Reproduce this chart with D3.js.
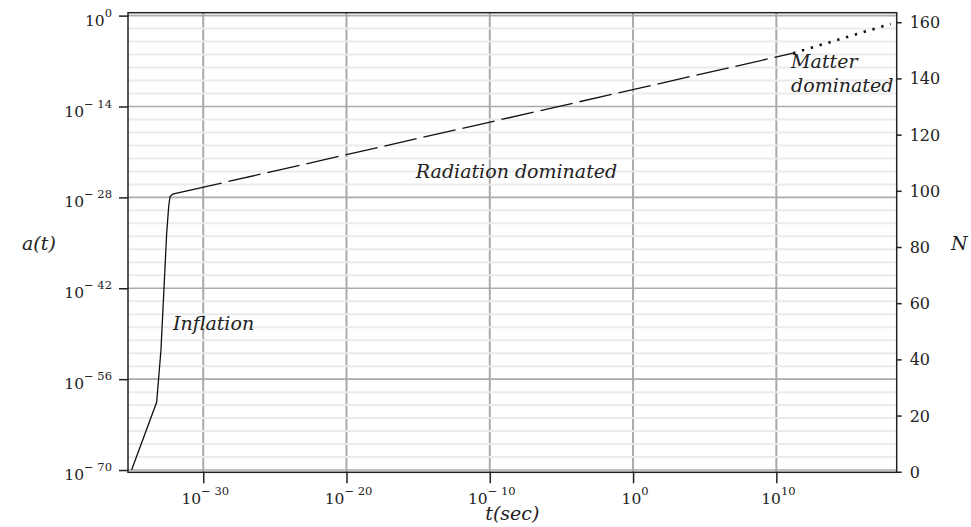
<!DOCTYPE html>
<html>
<head>
<meta charset="utf-8">
<script src="https://cdn.jsdelivr.net/npm/d3@7"></script>
<style>
  body { margin: 0; background: #fff; }
  svg text { font-family: "DejaVu Serif", serif; fill: #222; }
  .lbl { font-style: italic; font-size: 19px; }
</style>
</head>
<body>
<svg id="chart" width="971" height="527"></svg>
<script>
// exponents (powers of ten)
var majorTExp = [-30, -20, -10, 0, 10];
var majorAExp = [0, -14, -28, -42, -56, -70];
var nTicks = [0, 20, 40, 60, 80, 100, 120, 140, 160];

// pre-inflation + inflation + start of radiation era (solid)
var earlyT = [-35, -33.25, -32.95, -32.72, -32.55, -32.41, -32.32, -32.14, -28.72];
var earlyA = [-70, -59.57, -51.5, -41.2, -33.5, -29.4, -27.9, -27.5, -25.79];
// radiation dominated (dashed)
var radiationT = [-28.72, 11.17];
var radiationA = [-25.79, -5.79];
// matter dominated (dotted)
var matterT = [11.17, 17.98];
var matterA = [-5.79, -1.28];

var width = 971, height = 527;
var margin = {top: 12.7, right: 74.3, bottom: 54.7, left: 128};
var x0 = margin.left, x1 = width - margin.right;
var y0 = height - margin.bottom, y1 = margin.top;

var svg = d3.select('#chart');

var x = d3.scaleLog().domain([Math.pow(10, -35.25), Math.pow(10, 18.4)]).range([x0, x1]);
var y = d3.scaleLog().domain([Math.pow(10, -70.35), Math.pow(10, 0.45)]).range([y0, y1]);
var yN = d3.scaleLinear().domain([-0.2, 163.4]).range([y0, y1]);

function p10(e) { return Math.pow(10, e); }
function toPts(ts, as) {
  return ts.map(function(t, i) { return {t: p10(t), a: p10(as[i])}; });
}

var minorT = d3.range(-35, 19).filter(function(e) { return majorTExp.indexOf(e) < 0; });
var minorA = d3.range(-70, 1, 2).filter(function(e) { return majorAExp.indexOf(e) < 0; });

// grid
var grid = svg.append('g');
grid.selectAll('line.v').data(majorTExp).enter().append('line')
  .attr('x1', function(d) { return x(p10(d)); }).attr('x2', function(d) { return x(p10(d)); })
  .attr('y1', y0).attr('y2', y1)
  .attr('stroke', '#a9a9a9').attr('stroke-width', 2);
grid.selectAll('line.hm').data(minorA).enter().append('line')
  .attr('x1', x0).attr('x2', x1)
  .attr('y1', function(d) { return y(p10(d)); }).attr('y2', function(d) { return y(p10(d)); })
  .attr('stroke', '#ebebeb').attr('stroke-width', 2);
grid.selectAll('line.h').data(majorAExp).enter().append('line')
  .attr('x1', x0).attr('x2', x1)
  .attr('y1', function(d) { return y(p10(d)); }).attr('y2', function(d) { return y(p10(d)); })
  .attr('stroke', '#ababab').attr('stroke-width', 1.6);

// curves
var line = d3.line()
  .x(function(d) { return x(d.t); })
  .y(function(d) { return y(d.a); });

svg.append('path').datum(toPts(earlyT, earlyA))
  .attr('d', line).attr('fill', 'none').attr('stroke', '#111').attr('stroke-width', 1.3);
svg.append('path').datum(toPts(radiationT, radiationA))
  .attr('d', line).attr('fill', 'none').attr('stroke', '#111').attr('stroke-width', 1.3)
  .attr('stroke-dasharray', '33,7').attr('stroke-dashoffset', 33);
svg.append('path').datum(toPts(matterT, matterA))
  .attr('d', line).attr('fill', 'none').attr('stroke', '#111').attr('stroke-width', 2.6)
  .attr('stroke-dasharray', '2.4,6.8');

// axes
function powLabel(sel) {
  sel.each(function(d) {
    var e = Math.round(Math.log10(d));
    var t = d3.select(this).text(null);
    t.append('tspan').text('10');
    t.append('tspan').attr('dy', -9).attr('font-size', 11.5)
      .text(e < 0 ? '\u2212 ' + (-e) : String(e));
  });
}

var gx = svg.append('g').attr('transform', 'translate(0,' + y0 + ')');
gx.call(d3.axisBottom(x).tickValues(minorT.map(p10)).tickSize(6).tickFormat(''));
gx.call(d3.axisBottom(x).tickValues(majorTExp.map(p10)).tickSize(11).tickFormat(''));

var gy = svg.append('g').attr('transform', 'translate(' + x0 + ',0)');
gy.call(d3.axisLeft(y).tickValues(minorA.map(p10)).tickSize(5).tickFormat(''));
gy.call(d3.axisLeft(y).tickValues(majorAExp.map(p10)).tickSize(9).tickFormat(''));

var gr = svg.append('g').attr('transform', 'translate(' + x1 + ',0)');
gr.call(d3.axisRight(yN).tickValues(nTicks).tickSize(5).tickFormat(''));

svg.selectAll('.domain').remove();
svg.selectAll('.tick line').attr('stroke', '#222').attr('stroke-width', 1.5);

// tick labels
svg.append('g').selectAll('text').data(majorTExp.map(p10)).enter().append('text')
  .attr('x', function(d) { return x(d) + 2; }).attr('y', y0 + 32)
  .attr('text-anchor', 'middle').attr('font-size', 15.5).call(powLabel);
svg.append('g').selectAll('text').data(majorAExp.map(p10)).enter().append('text')
  .attr('x', x0 - 16).attr('y', function(d) { return y(d) + 10; })
  .attr('text-anchor', 'end').attr('font-size', 15.5).call(powLabel);
svg.append('g').selectAll('text').data(nTicks).enter().append('text')
  .attr('x', x1 + 13).attr('y', function(d) { return yN(d) + 6; })
  .attr('font-size', 16).text(function(d) { return d; });

// frame
svg.append('rect').attr('x', x0).attr('y', y1).attr('width', x1 - x0).attr('height', y0 - y1)
  .attr('fill', 'none').attr('stroke', '#222').attr('stroke-width', 1.5);

// annotations
svg.append('text').attr('class', 'lbl').attr('x', x(p10(-32.11))).attr('y', y(p10(-48.43))).text('Inflation');
svg.append('text').attr('class', 'lbl').attr('x', x(p10(-15.16))).attr('y', y(p10(-25.05))).text('Radiation dominated');
svg.append('text').attr('class', 'lbl').attr('x', x(p10(11.03))).attr('y', y(p10(-8.1))).text('Matter');
svg.append('text').attr('class', 'lbl').attr('x', x(p10(11.03))).attr('y', y(p10(-11.71))).text('dominated');

// axis titles
svg.append('text').attr('class', 'lbl').attr('x', 22).attr('y', 250).text('a(t)');
svg.append('text').attr('class', 'lbl').attr('x', 951).attr('y', 250).text('N');
svg.append('text').attr('class', 'lbl').attr('x', (x0 + x1) / 2).attr('y', 520)
  .attr('text-anchor', 'middle').text('t(sec)');
</script>
</body>
</html>
